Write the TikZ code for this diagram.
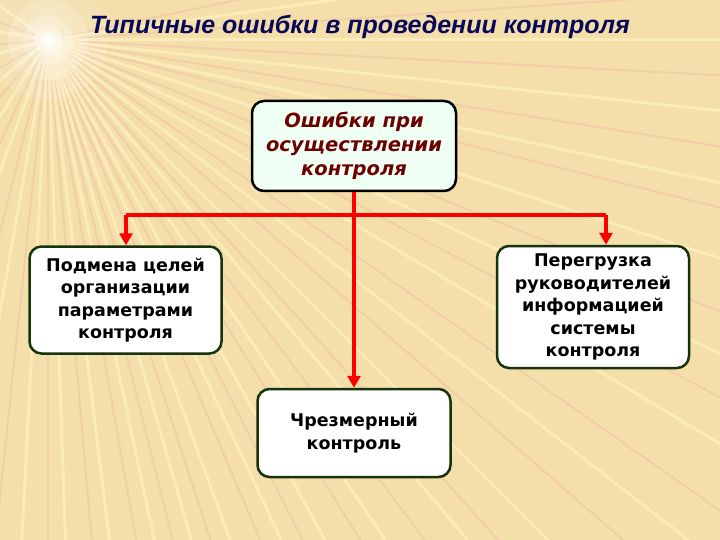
\documentclass[tikz,border=0pt]{standalone}
\usepackage{fontspec}
\setmainfont{DejaVu Sans}
\newfontfamily\titlefont{Liberation Sans}
\usetikzlibrary{arrows.meta}
\definecolor{sand}{RGB}{244,222,170}
\definecolor{raypink}{RGB}{236,176,166}
\definecolor{rayyellow}{RGB}{255,244,196}
\definecolor{boxline}{RGB}{22,52,12}
\definecolor{linkred}{RGB}{250,0,0}
\definecolor{titleblue}{RGB}{8,8,90}
\definecolor{headred}{RGB}{108,0,0}
\definecolor{mint}{RGB}{240,255,244}
\tikzset{
  box/.style={draw=boxline,line width=2.5pt,fill=white,rounded corners=12pt,
    align=center,inner sep=0pt,font=\bfseries\fontsize{17.5}{22.5}\selectfont},
  headbox/.style={box,draw=black,fill=mint,text=headred,
    font=\bfseries\itshape\fontsize{19.5}{24}\selectfont},
  link/.style={draw=linkred,line width=3.5pt},
  tip/.style={link,-{Triangle[width=13pt,length=12pt]}}
}
\begin{document}
\begin{tikzpicture}[x=1pt,y=-1pt]
\useasboundingbox (0,0) rectangle (720,540);
% background with light rays
\begin{scope}
\clip (0,0) rectangle (720,540);
\fill[sand] (0,0) rectangle (720,540);
\foreach \a in {-12,-4,3,9,14,22,28,35,41,48,53,58,63,67,72,76,80,85,90,96,104,115,130,150,175,200}
  \draw[raypink,opacity=0.35,line width=2pt] (48,40) -- ++(\a:1000);
\foreach \a in {-8,0,6,12,18,25,31,38,45,50,56,61,65,70,74,78,83,88,93,100,110,122,140,165,190,215}
  \draw[rayyellow,opacity=0.6,line width=3pt] (48,40) -- ++(\a:1000);
\foreach \r/\o in {60/0.12,40/0.18,25/0.25,14/0.4,7/0.7}
  \fill[white,opacity=\o] (48,40) circle (\r);
\end{scope}
% title
\node[font=\titlefont\bfseries\itshape\fontsize{25}{28}\selectfont,text=titleblue]
  (title) at (360,27) {Типичные ошибки в проведении контроля};
% boxes
\node[headbox,minimum width=204pt,minimum height=90pt] (errors) at (354,146)
  {Ошибки при\\осуществлении\\контроля};
\node[box,minimum width=192pt,minimum height=107pt] (goals) at (125.5,300)
  {Подмена целей\\организации\\параметрами\\контроля};
\node[box,minimum width=192pt,minimum height=122pt] (overload) at (593,307)
  {Перегрузка\\руководителей\\информацией\\системы\\контроля};
\node[box,minimum width=193pt,minimum height=88pt] (excess) at (354,433)
  {Чрезмерный\\контроль};
% connectors
\coordinate (barleft) at (126,215);
\coordinate (barright) at (606,215);
\draw[link] (barleft) -- (barright);
\draw[tip] (errors.south) -- (excess.north);
\draw[tip] (barleft) -- (barleft |- goals.north);
\draw[tip] (barright) -- (barright |- overload.north);
\end{tikzpicture}
\end{document}
